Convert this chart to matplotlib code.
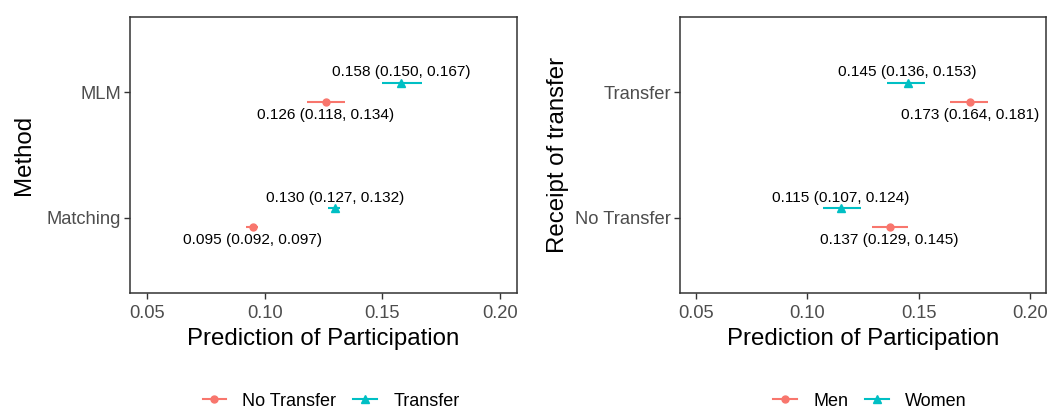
import matplotlib
matplotlib.use("Agg")
import matplotlib.pyplot as plt
from matplotlib.lines import Line2D

plt.rcParams['font.family'] = ['Liberation Sans', 'DejaVu Sans']

# ---- data ----
left_categories = ['Matching', 'MLM']
left_no_transfer_est = [0.095, 0.126]
left_no_transfer_lo = [0.092, 0.118]
left_no_transfer_hi = [0.097, 0.134]
left_transfer_est = [0.130, 0.158]
left_transfer_lo = [0.127, 0.150]
left_transfer_hi = [0.132, 0.167]

right_categories = ['No Transfer', 'Transfer']
men_est = [0.137, 0.173]
men_lo = [0.129, 0.164]
men_hi = [0.145, 0.181]
women_est = [0.115, 0.145]
women_lo = [0.107, 0.136]
women_hi = [0.124, 0.153]

x_ticks = [0.05, 0.10, 0.15, 0.20]
x_ticklabels = ['0.05', '0.10', '0.15', '0.20']

RED = '#F8766D'
TEAL = '#00BFC4'
DARK = '#333333'
TICKTXT = '#4D4D4D'

fig = plt.figure(figsize=(10.49, 4.11), dpi=100)
ax1 = fig.add_axes([130/1049, (411-293)/411, 387/1049, 276/411])
ax2 = fig.add_axes([680/1049, (411-293)/411, 366/1049, 276/411])

DODGE = 0.075


def draw(ax, cats, lowgrp, highgrp, ylabel, ylabelpad, legend_names, legend_cx):
    # lowgrp: red circle (dodged down), highgrp: teal triangle (dodged up)
    ypos = list(range(1, len(cats) + 1))
    for (est, lo, hi), color, marker, off, ms in [
        (lowgrp, RED, 'o', -DODGE, 5.0),
        (highgrp, TEAL, '^', DODGE, 5.5),
    ]:
        for i, y in enumerate(ypos):
            yy = y + off
            ax.plot([lo[i], hi[i]], [yy, yy], color=color, lw=1.5,
                    solid_capstyle='butt', zorder=2)
            ax.plot([est[i]], [yy], marker=marker, color=color, ms=ms,
                    ls='none', zorder=3)
            label = f"{est[i]:.3f} ({lo[i]:.3f}, {hi[i]:.3f})"
            dy = 7.6 if off > 0 else -9.4
            ax.annotate(label, (est[i], yy), xytext=(0, dy),
                        textcoords='offset points', ha='center', va='center',
                        fontsize=11.1, color='black', zorder=4)
    ax.set_xlim(0.0428, 0.2072)
    ax.set_ylim(0.4, len(cats) + 0.6)
    ax.set_xticks(x_ticks)
    ax.set_xticklabels(x_ticklabels)
    ax.set_yticks(ypos)
    ax.set_yticklabels(cats)
    ax.tick_params(axis='both', direction='out', length=4, width=1.0,
                   color=DARK, labelcolor=TICKTXT, labelsize=13.2, pad=3)
    ax.tick_params(axis='x', pad=4.5)
    ax.tick_params(axis='y', pad=2.5)
    for sp in ax.spines.values():
        sp.set_color(DARK)
        sp.set_linewidth(1.1)
    ax.set_xlabel('Prediction of Participation', fontsize=17.3, labelpad=4.5)
    ax.set_ylabel(ylabel, fontsize=17.3, labelpad=ylabelpad)

    handles = [
        Line2D([], [], color=RED, lw=1.5, marker='o', ms=5.0),
        Line2D([], [], color=TEAL, lw=1.5, marker='^', ms=5.5),
    ]
    fig.legend(handles, legend_names, loc='center',
               bbox_to_anchor=(legend_cx, 0.024), ncol=2, frameon=False,
               fontsize=13.0, handlelength=1.3, handletextpad=0.9,
               columnspacing=0.95, borderpad=0)


draw(ax1, left_categories,
     (left_no_transfer_est, left_no_transfer_lo, left_no_transfer_hi),
     (left_transfer_est, left_transfer_lo, left_transfer_hi),
     'Method', 8, ['No Transfer', 'Transfer'], 331/1049)
draw(ax2, right_categories,
     (men_est, men_lo, men_hi),
     (women_est, women_lo, women_hi),
     'Receipt of transfer', 4.5, ['Men', 'Women'], 870/1049)

fig.savefig('out.png', dpi=100)
